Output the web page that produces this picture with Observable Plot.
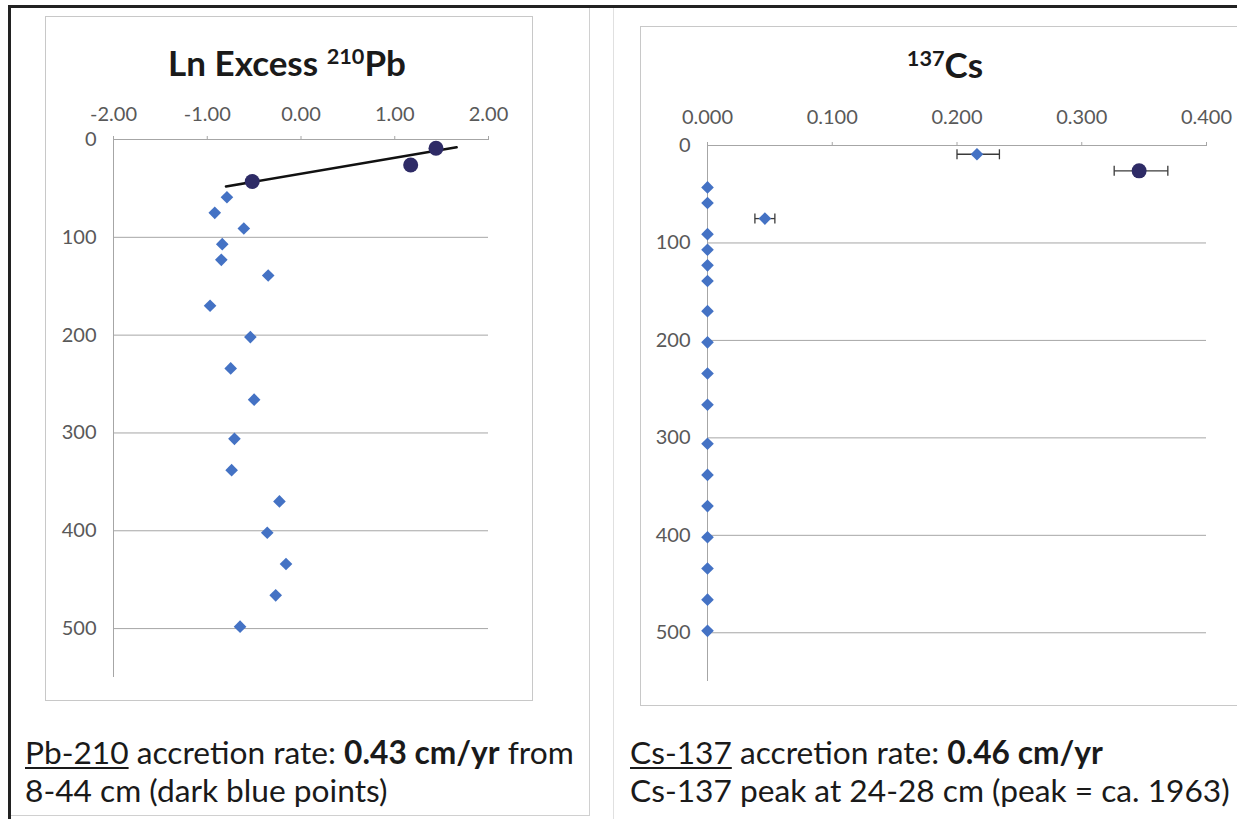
<!DOCTYPE html>
<html><head><meta charset="utf-8">
<script src="https://cdn.jsdelivr.net/npm/d3@7"></script>
<script src="https://cdn.jsdelivr.net/npm/@observablehq/plot@0.6"></script>
<style>
body{margin:0;background:#fff;font-family:Lato,"Open Sans",sans-serif;}
#page{position:relative;width:1237px;height:819px;overflow:hidden;background:#fff;}
.abs{position:absolute;}
.title{font-weight:700;font-size:35px;color:#1a1a1a;transform:translate(-50%,-50%);white-space:nowrap;}
.title sup{font-size:0.62em;vertical-align:0.55em;line-height:0;}
.cap{font-size:31.7px;color:#1a1a1a;line-height:38px;white-space:nowrap;}
.cap u{text-decoration-thickness:2px;text-underline-offset:3px;}
</style></head>
<body><div id="page">
  <div class="abs" style="left:8px;top:5px;right:0;height:3px;background:#222"></div>
  <div class="abs" style="left:8px;top:5px;width:3px;height:814px;background:#222"></div>
  <div class="abs" style="left:589px;top:8px;width:1px;height:808px;background:#d0d0d0"></div>
  <div class="abs" style="left:11px;top:815px;width:578px;height:1px;background:#d0d0d0"></div>
  <div class="abs" style="left:613px;top:8px;width:1px;height:811px;background:#e0e0e0"></div>
  <div class="abs" style="left:45px;top:16px;width:486px;height:683px;border:1px solid #c8c8c8"></div>
  <div class="abs" style="left:640px;top:26px;width:620px;height:678px;border:1px solid #c8c8c8"></div>
  <div id="left" class="abs" style="left:45px;top:16px"></div>
  <div id="right" class="abs" style="left:640px;top:26px"></div>
  <div class="abs title" style="left:287px;top:62px">Ln Excess <sup>210</sup>Pb</div>
  <div class="abs title" style="left:945px;top:64px"><sup>137</sup>Cs</div>
  <div class="abs cap" style="left:25px;top:733px"><u>Pb-210</u> accretion rate: <b>0.43 cm/yr</b> from<br>8-44 cm (dark blue points)</div>
  <div class="abs cap" style="left:630px;top:733px"><u>Cs-137</u> accretion rate: <b>0.46 cm/yr</b><br>Cs-137 peak at 24-28 cm (peak = ca. 1963)</div>
</div>
<script>
// ---- data ----
const depthCm = [9, 26, 43, 59, 75, 91, 107, 123, 139, 170, 202, 234, 266, 306, 338, 370, 402, 434, 466, 498];
const pbLnExcess = [1.44, 1.17, -0.52, -0.79, -0.92, -0.61, -0.84, -0.85, -0.35, -0.97, -0.54, -0.75, -0.50, -0.71, -0.74, -0.23, -0.36, -0.16, -0.27, -0.65];
const pbSeries = ["fit", "fit", "fit", "deep", "deep", "deep", "deep", "deep", "deep", "deep", "deep", "deep", "deep", "deep", "deep", "deep", "deep", "deep", "deep", "deep"];
const pbFitX = [-0.80, 1.66];
const pbFitDepth = [48, 8];
const csActivity = [0.216, 0.346, 0, 0, 0.046, 0, 0, 0, 0, 0, 0, 0, 0, 0, 0, 0, 0, 0, 0, 0];
const csErrLow = [0.200, 0.326, null, null, 0.038, null, null, null, null, null, null, null, null, null, null, null, null, null, null, null];
const csErrHigh = [0.234, 0.369, null, null, 0.054, null, null, null, null, null, null, null, null, null, null, null, null, null, null, null];
const csSeries = ["other", "peak", "other", "other", "other", "other", "other", "other", "other", "other", "other", "other", "other", "other", "other", "other", "other", "other", "other", "other"];
const pbTicks = [-2, -1, 0, 1, 2];
const csTicks = [0, 0.1, 0.2, 0.3, 0.4];
const depthTicks = [0, 100, 200, 300, 400, 500];
const depthMax = 550;

// ---- styling ----
const grey = "#a6a6a6";
const labelColor = "#595959";
const diamondBlue = "#4472C4";
const darkBlue = "#2E2B66";
const capSymbol = {draw(ctx, size) { const h = Math.sqrt(size / Math.PI); ctx.moveTo(0, -h); ctx.lineTo(0, h); }};
const style = {fontFamily: "Lato, 'Open Sans', sans-serif", fontSize: "20px", color: labelColor, background: "transparent", overflow: "visible"};

const pbRows = depthCm.map((d, i) => ({depth: d, value: pbLnExcess[i], series: pbSeries[i]}));
const fitRows = pbFitX.map((x, i) => ({value: x, depth: pbFitDepth[i]}));

const left = Plot.plot({
  width: 487, height: 684,
  marginLeft: 68, marginRight: 44, marginTop: 123, marginBottom: 23,
  style,
  x: {domain: [-2, 2]},
  y: {domain: [0, depthMax], reverse: true},
  marks: [
    Plot.ruleY(depthTicks.filter(t => t > 0), {stroke: grey}),
    Plot.ruleY([0], {stroke: grey}),
    Plot.ruleX([-2], {stroke: grey}),
    Plot.axisX({anchor: "top", ticks: pbTicks, tickFormat: d => d.toFixed(2), tickSize: 4, tickPadding: 15, stroke: grey, fill: labelColor, label: null}),
    Plot.axisY({ticks: depthTicks, tickSize: 0, tickPadding: 17, fill: labelColor, label: null}),
    Plot.line(fitRows, {x: "value", y: "depth", stroke: "#111", strokeWidth: 2.5}),
    Plot.dot(pbRows.filter(r => r.series === "deep"), {x: "value", y: "depth", symbol: "diamond2", r: 5.7, fill: diamondBlue}),
    Plot.dot(pbRows.filter(r => r.series === "fit"), {x: "value", y: "depth", r: 7.5, fill: darkBlue})
  ]
});
document.getElementById("left").append(left);

const csRows = depthCm.map((d, i) => ({depth: d, value: csActivity[i], lo: csErrLow[i], hi: csErrHigh[i], series: csSeries[i]}));
const errRows = csRows.filter(r => r.lo != null);

const right = Plot.plot({
  width: 597, height: 679,
  marginLeft: 67, marginRight: 31, marginTop: 119, marginBottom: 24,
  style,
  x: {domain: [0, 0.4]},
  y: {domain: [0, depthMax], reverse: true},
  marks: [
    Plot.ruleY(depthTicks.filter(t => t > 0), {stroke: grey}),
    Plot.ruleY([0], {stroke: grey}),
    Plot.ruleX([0], {stroke: grey}),
    Plot.axisX({anchor: "top", ticks: csTicks, tickFormat: d => d.toFixed(3), tickSize: 4, tickPadding: 18, stroke: grey, fill: labelColor, label: null}),
    Plot.axisY({ticks: depthTicks, tickSize: 0, tickPadding: 17, fill: labelColor, label: null}),
    Plot.link(errRows, {x1: "lo", x2: "hi", y1: "depth", y2: "depth", stroke: "#3a3a3a", strokeWidth: 1.3}),
    Plot.dot(errRows, {x: "lo", y: "depth", symbol: capSymbol, r: 5, stroke: "#3a3a3a", strokeWidth: 1.3, fill: "none"}),
    Plot.dot(errRows, {x: "hi", y: "depth", symbol: capSymbol, r: 5, stroke: "#3a3a3a", strokeWidth: 1.3, fill: "none"}),
    Plot.dot(csRows.filter(r => r.series === "other"), {x: "value", y: "depth", symbol: "diamond2", r: 5.7, fill: diamondBlue}),
    Plot.dot(csRows.filter(r => r.series === "peak"), {x: "value", y: "depth", r: 7.5, fill: darkBlue})
  ]
});
document.getElementById("right").append(right);
</script>
</body></html>
